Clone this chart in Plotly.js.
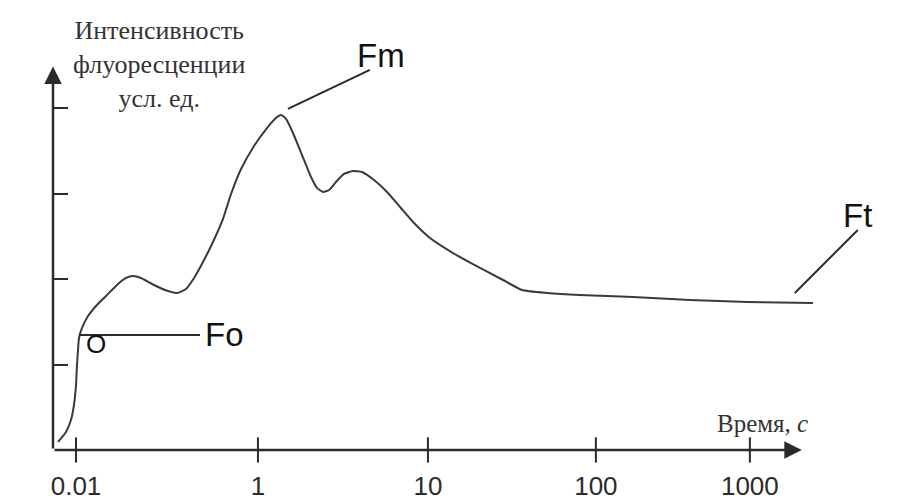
<!DOCTYPE html>
<html>
<head>
<meta charset="utf-8">
<script src="https://cdn.plot.ly/plotly-3.0.1.min.js"></script>
<style>html,body{margin:0;padding:0;background:#fff;}#chart{width:913px;height:502px;}</style>
</head>
<body>
<div id="chart"></div>
<script>
// Schematic time axis: tick positions (axis units) and their labels (seconds)
const xTickPos = [0.306, 2.726, 4.987, 7.221, 9.269];
const xTickLabels = ['0.01', '1', '10', '100', '1000'];
const yTickPos = [1, 2, 3, 4];

// Fluorescence induction curve (axis units)
const curveX = [0.067, 0.173, 0.239, 0.279, 0.306, 0.319, 0.333, 0.346, 0.386, 0.466, 0.572, 0.705, 0.851, 0.971, 1.064, 1.170, 1.317, 1.490, 1.649, 1.769, 1.876, 1.995, 2.128, 2.261, 2.368, 2.501, 2.674, 2.846, 2.966, 3.033, 3.099, 3.192, 3.312, 3.432, 3.512, 3.591, 3.671, 3.764, 3.871, 3.990, 4.110, 4.270, 4.443, 4.616, 4.789, 5.015, 5.321, 5.680, 5.986, 6.238, 6.571, 7.010, 7.715, 8.473, 9.231, 10.109];
const curveY = [0.094, 0.211, 0.351, 0.527, 0.761, 0.996, 1.171, 1.312, 1.429, 1.569, 1.687, 1.804, 1.933, 2.015, 2.038, 2.015, 1.944, 1.874, 1.839, 1.886, 2.015, 2.202, 2.436, 2.706, 2.998, 3.291, 3.561, 3.771, 3.888, 3.924, 3.877, 3.713, 3.455, 3.197, 3.069, 3.022, 3.045, 3.139, 3.233, 3.268, 3.256, 3.162, 3.022, 2.846, 2.670, 2.483, 2.307, 2.132, 1.991, 1.874, 1.839, 1.815, 1.792, 1.757, 1.733, 1.722];

const ink = '#2b2b2b';
const sans = 'Liberation Sans, Arial, sans-serif';
const serif = 'Liberation Serif, Times New Roman, serif';

const traces = [
  {
    x: curveX, y: curveY, type: 'scatter', mode: 'lines',
    line: {color: '#3a3a3a', width: 2, shape: 'spline', smoothing: 0.5},
    hoverinfo: 'skip', cliponaxis: false
  },
  {
    x: xTickPos, y: xTickPos.map(() => 0), type: 'scatter', mode: 'markers',
    marker: {symbol: 'line-ns', size: 18, line: {color: ink, width: 2}},
    hoverinfo: 'skip', cliponaxis: false
  }
];

const layout = {
  width: 913, height: 502,
  margin: {l: 53, r: 33, t: 6, b: 52},
  paper_bgcolor: '#fff', plot_bgcolor: '#fff',
  showlegend: false,
  xaxis: {
    range: [0, 11], showgrid: false, zeroline: false, showline: false,
    tickmode: 'array', tickvals: xTickPos, ticktext: xTickLabels,
    ticks: '', ticklabelstandoff: 18,
    tickfont: {family: sans, size: 26, color: ink}
  },
  yaxis: {
    range: [0, 5.2], showgrid: false, zeroline: false, showline: false,
    tickmode: 'array', tickvals: yTickPos, showticklabels: false,
    ticks: 'inside', ticklen: 15, tickwidth: 2, tickcolor: ink
  },
  shapes: [
    {type: 'line', xref: 'x', yref: 'y', x0: 0.346, y0: 1.347, x1: 1.955, y1: 1.347, line: {color: ink, width: 2}},
    {type: 'line', xref: 'x', yref: 'y', x0: 3.125, y0: 3.994, x1: 4.215, y1: 4.451, line: {color: ink, width: 2}},
    {type: 'line', xref: 'x', yref: 'y', x0: 9.867, y0: 1.839, x1: 10.705, y1: 2.577, line: {color: ink, width: 2}}
  ],
  annotations: [
    // axes with arrowheads
    {x: 0, y: 4.49, ax: 0, ay: 0, axref: 'x', ayref: 'y', xref: 'x', yref: 'y', text: '', showarrow: true,
     arrowhead: 2, arrowsize: 1.4, arrowwidth: 2.5, arrowcolor: ink, standoff: 0},
    {x: 9.96, y: 0, ax: 0, ay: 0, axref: 'x', ayref: 'y', xref: 'x', yref: 'y', text: '', showarrow: true,
     arrowhead: 2, arrowsize: 1.4, arrowwidth: 2.5, arrowcolor: ink, standoff: 0},
    // labels
    {x: 1.41, y: 4.515, xref: 'x', yref: 'y', showarrow: false,
     text: 'Интенсивность<br>флуоресценции<br>усл. ед.',
     font: {family: serif, size: 26, color: '#333'}, align: 'center'},
    {x: 9.44, y: 0.316, xref: 'x', yref: 'y', showarrow: false,
     text: 'Время, <i>с</i>', font: {family: serif, size: 25, color: '#333'}},
    {x: -0.465, y: -0.02, xref: 'x', yref: 'y', showarrow: false, text: '0',
     font: {family: sans, size: 21, color: '#444'}},
    {x: 4.362, y: 4.626, xref: 'x', yref: 'y', showarrow: false, text: 'Fm',
     font: {family: sans, size: 33, color: '#111'}},
    {x: 1.995, y: 1.347, xref: 'x', yref: 'y', showarrow: false, text: 'Fo', xanchor: 'left',
     font: {family: sans, size: 33, color: '#111'}},
    {x: 10.705, y: 2.752, xref: 'x', yref: 'y', showarrow: false, text: 'Ft',
     font: {family: sans, size: 33, color: '#111'}},
    {x: 0.575, y: 1.24, xref: 'x', yref: 'y', showarrow: false, text: 'O',
     font: {family: sans, size: 26, color: '#111'}}
  ]
};

Plotly.newPlot('chart', traces, layout, {staticPlot: true, displayModeBar: false});
</script>
</body>
</html>
